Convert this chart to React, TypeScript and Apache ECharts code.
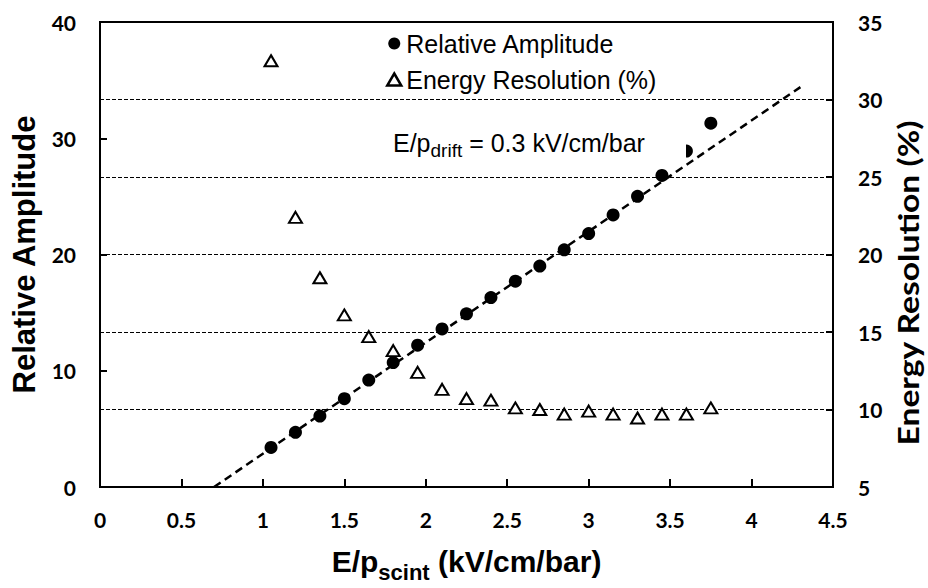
import React, { useEffect, useRef } from "react";
import * as echarts from "echarts";

// E/p_scint values (kV/cm/bar)
const fieldValues = [1.05, 1.2, 1.35, 1.5, 1.65, 1.8, 1.95, 2.1, 2.25, 2.4, 2.55, 2.7, 2.85, 3.0, 3.15, 3.3, 3.45, 3.6, 3.75];
// Relative amplitude (left axis)
const amplitude = [3.4, 4.7, 6.1, 7.6, 9.2, 10.7, 12.2, 13.6, 14.9, 16.3, 17.7, 19.0, 20.4, 21.8, 23.4, 25.0, 26.8, 28.9, 31.3];
// Energy resolution % (right axis)
const resolution = [32.5, 22.4, 18.5, 16.1, 14.7, 13.8, 12.4, 11.3, 10.7, 10.6, 10.1, 10.0, 9.7, 9.9, 9.7, 9.45, 9.7, 9.7, 10.1];
// Linear trend line endpoints
const trendX = [0.7, 4.3];
const trendY = [0, 34.4];

const xTicks = { min: 0, max: 4.5, interval: 0.5 };
const leftTicks = { min: 0, max: 40, interval: 10 };
const rightTicks = { min: 5, max: 35, interval: 5 };

const ARIAL = "'Liberation Sans', Arial, Helvetica, sans-serif";
const CAL = "Lato, 'Open Sans', sans-serif";

export default function App() {
  const ref = useRef<HTMLDivElement>(null);
  useEffect(() => {
    document.body.style.margin = "0";
    if (!ref.current) return;
    const chart = echarts.init(ref.current, undefined, { renderer: "svg" });
    const tickLabel = { color: "#000", fontFamily: CAL, fontWeight: "bold" as const, fontSize: 21 };
    chart.setOption({
      animation: false,
      backgroundColor: "#fff",
      grid: { left: 100, right: 95, top: 22, bottom: 90, show: true, borderColor: "#000", borderWidth: 2, backgroundColor: "transparent" },
      legend: {
        orient: "vertical",
        left: 386,
        top: 31,
        padding: 0,
        itemWidth: 14,
        itemHeight: 12,
        itemGap: 11,
        textStyle: { fontFamily: ARIAL, fontSize: 25, color: "#000", lineHeight: 25 },
        data: [
          { name: "Relative Amplitude", icon: "circle", itemStyle: { color: "#000", opacity: 1 } },
          { name: "Energy Resolution (%)", icon: "triangle", itemStyle: { color: "#fff", borderColor: "#000", borderWidth: 2.5, opacity: 1 } },
        ],
      },
      xAxis: {
        type: "value",
        ...xTicks,
        axisLine: { lineStyle: { color: "#000", width: 2 } },
        axisTick: { inside: true, length: 8, lineStyle: { color: "#000", width: 2 } },
        splitLine: { show: false },
        axisLabel: { ...tickLabel, margin: 22 },
        name: "{b|E/p}{s|scint}{b| (kV/cm/bar)}",
        nameLocation: "middle",
        nameGap: 52,
        nameTextStyle: {
          rich: {
            b: { fontFamily: ARIAL, fontWeight: "bold", fontSize: 30, lineHeight: 44, color: "#000" },
            s: { fontFamily: ARIAL, fontWeight: "bold", fontSize: 22, lineHeight: 22, verticalAlign: "bottom", color: "#000" },
          },
        },
      },
      yAxis: [
        {
          type: "value",
          position: "left",
          ...leftTicks,
          axisLine: { show: true, lineStyle: { color: "#000", width: 2 } },
          axisTick: { show: true, inside: true, length: 7, lineStyle: { color: "#000", width: 2 } },
          splitLine: { show: false },
          axisLabel: { ...tickLabel, margin: 24 },
          name: "Relative Amplitude",
          nameLocation: "middle",
          nameRotate: 90,
          nameGap: 60,
          nameTextStyle: { fontFamily: ARIAL, fontWeight: "bold", fontSize: 31, color: "#000" },
        },
        {
          type: "value",
          position: "right",
          ...rightTicks,
          axisLine: { show: true, lineStyle: { color: "#000", width: 2 } },
          axisTick: { show: true, inside: true, length: 7, lineStyle: { color: "#000", width: 2 } },
          splitLine: { show: true, lineStyle: { color: "#000", width: 1, type: [4, 2] } },
          axisLabel: { ...tickLabel, margin: 25 },
        },
      ],
      series: [
        {
          type: "line",
          yAxisIndex: 0,
          data: trendX.map((x, i) => [x, trendY[i]]),
          symbol: "none",
          silent: true,
          z: 1,
          lineStyle: { color: "#000", width: 2.5, type: [8, 5] },
        },
        {
          name: "Relative Amplitude",
          type: "scatter",
          yAxisIndex: 0,
          data: fieldValues.map((x, i) => [x, amplitude[i]]),
          symbol: "circle",
          symbolSize: 13,
          z: 3,
          itemStyle: { color: "#000", opacity: 1 },
        },
        {
          name: "Energy Resolution (%)",
          type: "scatter",
          yAxisIndex: 1,
          data: fieldValues.map((x, i) => [x, resolution[i]]),
          symbol: "triangle",
          symbolSize: [13, 11],
          z: 3,
          itemStyle: { color: "#fff", borderColor: "#000", borderWidth: 2, opacity: 1 },
        },
      ],
      graphic: [
        { type: "rect", z: 10, shape: { x: 385, y: 121, width: 301, height: 43 }, style: { fill: "#fff" } },
        {
          type: "text",
          z: 11,
          x: 393,
          y: 125,
          style: {
            text: "{m|E/p}{s|drift}{m| = 0.3 kV/cm/bar}",
            align: "left",
            verticalAlign: "top",
            rich: {
              m: { fontFamily: ARIAL, fontSize: 25, lineHeight: 35, fill: "#000", color: "#000" },
              s: { fontFamily: ARIAL, fontSize: 19, lineHeight: 19, verticalAlign: "bottom", fill: "#000", color: "#000" },
            },
          },
        },
        {
          type: "text",
          z: 11,
          x: 908,
          y: 283,
          rotation: Math.PI / 2,
          scaleX: 1.16,
          style: {
            text: "Energy Resolution (%)",
            align: "center",
            verticalAlign: "middle",
            fontFamily: CAL,
            fontWeight: "bold",
            fontSize: 29,
            fill: "#000",
          },
        },
      ],
    });
    return () => chart.dispose();
  }, []);
  return <div ref={ref} style={{ width: 928, height: 588 }} />;
}
